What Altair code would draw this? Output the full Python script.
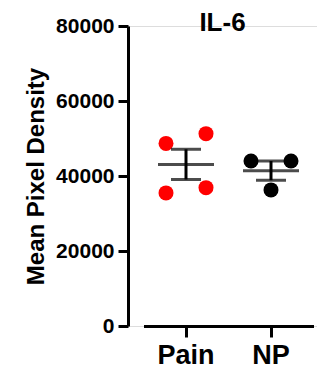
import altair as alt
import pandas as pd

# Data
groups = ["Pain", "NP"]
pain_values = [48700, 51300, 35500, 36900]
pain_sides = ["L", "R", "L", "R"]
np_values = [44000, 44000, 36300]
np_sides = ["L", "R", "C"]
y_ticks = [0, 20000, 40000, 60000, 80000]

rows = []
for v, s in zip(pain_values, pain_sides):
    rows.append({"group": "Pain", "value": v, "side": s})
for v, s in zip(np_values, np_sides):
    rows.append({"group": "NP", "value": v, "side": s})
df = pd.DataFrame(rows)

FONT = "Liberation Sans"

xscale = alt.Scale(domain=groups, paddingInner=0, paddingOuter=0, range=[15.5, 185.5])
yscale = alt.Scale(domain=[0, 80000], nice=False)

x_enc = alt.X(
    "group:N",
    scale=xscale,
    sort=groups,
    axis=alt.Axis(
        title=None,
        labelAngle=0,
        labelFont=FONT,
        labelFontSize=27,
        labelFontWeight="bold",
        labelColor="black",
        labelPadding=5,
        tickSize=11,
        tickWidth=3,
        tickColor="black",
        domainWidth=3,
        domainColor="black",
        grid=False,
    ),
)

y_axis = alt.Axis(
    values=y_ticks,
    format="d",
    title="Mean Pixel Density",
    titleFont=FONT,
    titleFontSize=24,
    titleFontWeight="bold",
    titleColor="black",
    titlePadding=7,
    labelFont=FONT,
    labelFontSize=21,
    labelFontWeight="bold",
    labelColor="black",
    labelPadding=4,
    tickSize=10,
    tickWidth=3,
    tickColor="black",
    domainWidth=3,
    domainColor="black",
    grid=False,
)

base = alt.Chart(df)

points = base.mark_circle(size=225, opacity=1).encode(
    x=x_enc,
    xOffset=alt.XOffset(
        "side:N",
        scale=alt.Scale(type="point", domain=["L", "C", "R"], range=[22.5, 62.5], padding=0),
    ),
    y=alt.Y("value:Q", scale=yscale, axis=y_axis),
    color=alt.Color(
        "group:N",
        scale=alt.Scale(domain=groups, range=["#ff0000", "#000000"]),
        legend=None,
    ),
)

stats = base.transform_aggregate(
    mean="mean(value)", sem="stderr(value)", groupby=["group"]
).transform_calculate(
    lo="datum.mean - datum.sem", hi="datum.mean + datum.sem"
)

mean_tick = stats.mark_tick(size=56, thickness=3, color="black").encode(
    x=alt.X("group:N", scale=xscale, sort=groups),
    y=alt.Y("mean:Q", scale=yscale),
)
sem_rule = stats.mark_rule(strokeWidth=3, color="black").encode(
    x=alt.X("group:N", scale=xscale, sort=groups),
    y=alt.Y("lo:Q", scale=yscale),
    y2="hi:Q",
)
lo_tick = stats.mark_tick(size=30, thickness=3, color="black").encode(
    x=alt.X("group:N", scale=xscale, sort=groups),
    y=alt.Y("lo:Q", scale=yscale),
)
hi_tick = stats.mark_tick(size=30, thickness=3, color="black").encode(
    x=alt.X("group:N", scale=xscale, sort=groups),
    y=alt.Y("hi:Q", scale=yscale),
)

chart = (
    alt.layer(points, sem_rule, lo_tick, hi_tick, mean_tick)
    .properties(
        width=189,
        height=300,
        title=alt.TitleParams(
            "IL-6",
            font=FONT,
            fontSize=26,
            fontWeight="bold",
            color="black",
            anchor="middle",
            offset=-21,
        ),
        padding={"left": 16, "top": 2, "right": 0, "bottom": 0},
    )
    .configure_view(stroke=None)
    .configure(background="white")
)

chart.save("out.html", embed_options={"renderer": "svg", "actions": False})
